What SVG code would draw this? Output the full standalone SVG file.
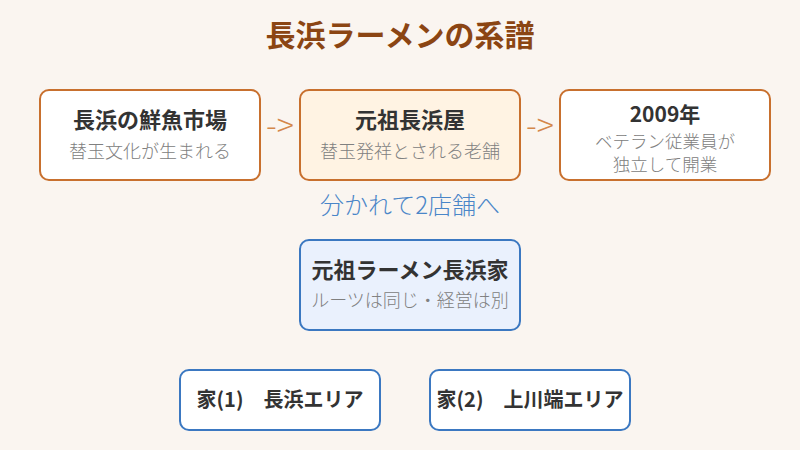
<svg xmlns="http://www.w3.org/2000/svg" width="800" height="450" viewBox="0 0 800 450">
<style>
text{font-family:"Noto Sans CJK JP","Noto Sans",sans-serif;text-anchor:middle}
.title{font-size:30px;font-weight:bold;fill:#8b4513}
.h{font-size:22px;font-weight:bold;fill:#333}
.s{font-size:18px;font-weight:300;fill:#808080}
.o{stroke:#c8702e;stroke-width:2}
.b{stroke:#3b78c1;stroke-width:2}
.arr{font-size:32px;font-weight:300;fill:#d4874a}
.note{font-size:24px;font-weight:300;fill:#4a86c8}
.h2{font-size:20px;font-weight:bold;fill:#333}
</style>
<rect width="800" height="450" fill="#faf5f0"/>
<text class="title" x="400" y="46">長浜ラーメンの系譜</text>
<g id="connectors">
<text class="arr" x="280" y="137">-&gt;</text>
<text class="arr" x="540" y="137">-&gt;</text>
<text class="note" x="410" y="214">分かれて2店舗へ</text>
</g>
<g id="n1">
<rect class="o" x="40" y="90" width="220" height="90" rx="9" fill="#fff"/>
<text class="h" x="150" y="128">長浜の鮮魚市場</text>
<text class="s" x="150" y="158">替玉文化が生まれる</text>
</g>
<g id="n2">
<rect class="o" x="300" y="90" width="220" height="90" rx="9" fill="#fff3e3"/>
<text class="h" x="410" y="128">元祖長浜屋</text>
<text class="s" x="410" y="158">替玉発祥とされる老舗</text>
</g>
<g id="n3">
<rect class="o" x="560" y="90" width="210" height="90" rx="9" fill="#fff"/>
<text class="h" x="665" y="122" style="font-size:21px">2009年</text>
<text class="s" x="665" y="148" style="font-size:17.5px">ベテラン従業員が</text>
<text class="s" x="665" y="171" style="font-size:17.5px">独立して開業</text>
</g>
<g id="n4">
<rect class="b" x="300" y="240" width="220" height="90" rx="9" fill="#eaf1fd"/>
<text class="h" x="410" y="278">元祖ラーメン長浜家</text>
<text class="s" x="410" y="307">ルーツは同じ・経営は別</text>
</g>
<g id="n5">
<rect class="b" x="180" y="370" width="200" height="60" rx="9" fill="#fff"/>
<text class="h2" x="280" y="407">家(1)　長浜エリア</text>
</g>
<g id="n6">
<rect class="b" x="430" y="370" width="200" height="60" rx="9" fill="#fff"/>
<text class="h2" x="530" y="407">家(2)　上川端エリア</text>
</g>
</svg>
